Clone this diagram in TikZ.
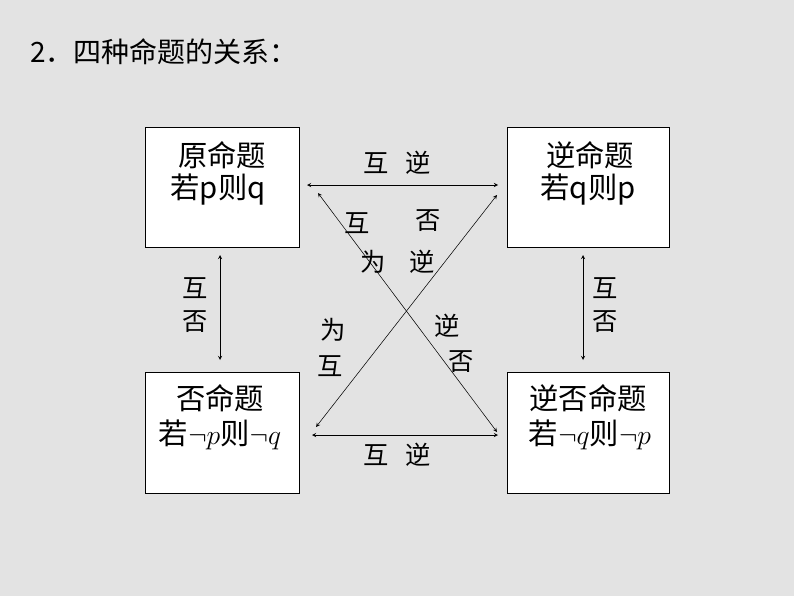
\documentclass[tikz,border=0pt]{standalone}
\usepackage{fontspec}
\newfontfamily\cjk{Noto Sans CJK SC}
\begin{document}
\begin{tikzpicture}[x=0.75pt,y=-0.75pt,
  box/.style={draw,fill=white,minimum width=154*0.75pt,minimum height=120*0.75pt,anchor=north west,inner sep=0pt},
  lab/.style={font=\cjk\fontsize{19}{22}\selectfont,inner sep=0pt},
  btxt/.style={font=\cjk\fontsize{22}{26}\selectfont,inner sep=0pt},
  con/.style={<->,>=stealth,thin}]
\fill[gray!22] (0,0) rectangle (794,596);
\useasboundingbox (0,0) rectangle (794,596);
\node[font=\cjk\fontsize{21}{24}\selectfont,inner sep=0pt,anchor=west] (title) at (30,52) {2．四种命题的关系：};
\node[box] (A) at (145,127) {};
\node[box,minimum width=162*0.75pt] (B) at (507,127) {};
\node[box,minimum height=121*0.75pt] (C) at (145,372) {};
\node[box,minimum width=162*0.75pt,minimum height=121*0.75pt] (D) at (507,372) {};
\node[btxt] (a1) at (222,155) {原命题};
\node[btxt] (a2) at (218,190) {若p则q};
\node[btxt] (b1) at (590,155) {逆命题};
\node[btxt] (b2) at (588,190) {若q则p};
\node[btxt] (c1) at (220,398) {否命题};
\node[btxt] (c2) at (220,435) {若$\neg p$则$\neg q$};
\node[btxt] (d1) at (588,398) {逆否命题};
\node[btxt] (d2) at (590,435) {若$\neg q$则$\neg p$};
\coordinate (t1) at (307,185); \coordinate (t2) at (498,185);
\coordinate (u1) at (312,435); \coordinate (u2) at (498,435);
\coordinate (l1) at (220,255); \coordinate (l2) at (220,360);
\coordinate (r1) at (583,255); \coordinate (r2) at (583,360);
\coordinate (x1) at (318,193); \coordinate (x2) at (497,432);
\coordinate (y1) at (497,195); \coordinate (y2) at (316,427);
\draw[con] (t1) -- (t2);
\draw[con] (u1) -- (u2);
\draw[con] (l1) -- (l2);
\draw[con] (r1) -- (r2);
\draw[con] (x1) -- (x2);
\draw[con] (y1) -- (y2);
\node[lab] (m1) at (397,163) {互\ \ \ 逆};
\node[lab] (m2) at (397,455) {互\ \ \ 逆};
\node[lab] (m3) at (195,288) {互};
\node[lab] (m4) at (195,322) {否};
\node[lab] (m5) at (605,288) {互};
\node[lab] (m6) at (605,322) {否};
\node[lab] (m7) at (357,223) {互};
\node[lab] (m8) at (428,221) {否};
\node[lab] (m9) at (373,262) {为};
\node[lab] (m10) at (422,262) {逆};
\node[lab] (m11) at (333,330) {为};
\node[lab] (m12) at (330,366) {互};
\node[lab] (m13) at (447,326) {逆};
\node[lab] (m14) at (461,362) {否};
\end{tikzpicture}
\end{document}
